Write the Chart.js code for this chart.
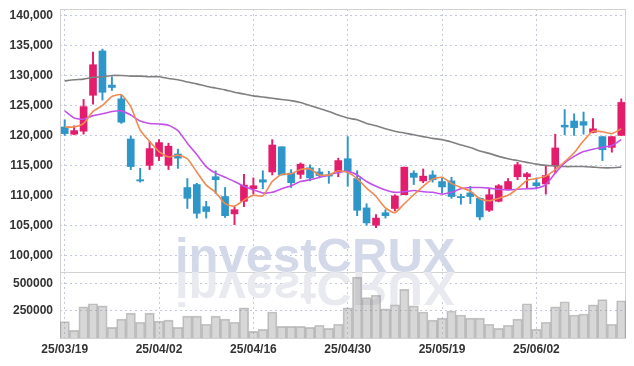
<!DOCTYPE html>
<html>
<head>
<meta charset="utf-8">
<script src="https://cdn.jsdelivr.net/npm/chart.js@4.4.1/dist/chart.umd.min.js"></script>
<style>
  html, body { margin: 0; padding: 0; background: #fff; }
  #wrap { position: relative; width: 634px; height: 366px; overflow: hidden; }
  #price { position: absolute; left: 0; top: 0; }
  #volume { position: absolute; left: 0; top: 262px; }
</style>
</head>
<body>
<div id="wrap">
  <canvas id="price" width="634" height="280"></canvas>
  <canvas id="volume" width="634" height="104"></canvas>
</div>
<script>
const dates = [
  "25/03/19","25/03/20","25/03/21","25/03/24","25/03/25","25/03/26","25/03/27","25/03/28","25/03/31","25/04/01",
  "25/04/02","25/04/03","25/04/04","25/04/07","25/04/08","25/04/09","25/04/10","25/04/11","25/04/14","25/04/15",
  "25/04/16","25/04/17","25/04/18","25/04/21","25/04/22","25/04/23","25/04/24","25/04/25","25/04/28","25/04/29",
  "25/04/30","25/05/02","25/05/07","25/05/08","25/05/09","25/05/12","25/05/13","25/05/14","25/05/15","25/05/16",
  "25/05/19","25/05/20","25/05/21","25/05/22","25/05/23","25/05/26","25/05/27","25/05/28","25/05/29","25/05/30",
  "25/06/02","25/06/04","25/06/05","25/06/09","25/06/10","25/06/11","25/06/12","25/06/13","25/06/16","25/06/17"
];

const open = [
  121400,120200,120700,126700,134100,128400,126100,119400,112600,115000,
  116500,115000,116900,111300,111800,108100,113100,109800,106900,109000,
  111100,112600,113900,118100,113700,113500,114600,113900,113400,113900,
  116100,112800,107900,105000,107100,107800,110100,113700,112400,113400,
  112300,112400,109800,110400,109500,107500,109000,111100,113100,113100,
  112100,111900,114900,121700,122400,122300,120500,119800,118000,120000
];
const high = [
  122600,121600,126000,133900,134400,129800,126700,119900,114500,119000,
  119300,118700,117700,112800,112000,109000,114100,111300,108100,113500,
  112900,114100,119300,118100,114300,115400,115100,114500,114000,116200,
  119800,114100,108600,106800,107600,110100,114700,114100,114400,114100,
  112900,113000,110200,111500,109600,111100,111800,112800,115500,113800,
  112900,115000,120200,124300,123600,123900,122800,119800,119800,126100
];
const low = [
  120000,120100,120200,125200,125900,127500,122000,114300,112200,114300,
  115800,114300,114500,107800,106200,106200,110300,106300,105100,108100,
  110200,111100,113400,113400,111300,112800,112400,112900,112000,113100,
  111500,106600,105000,104600,106200,107400,110100,111800,112100,112200,
  110400,109500,108500,108600,105900,107300,108900,110900,112600,111200,
  111100,110200,113700,120100,120000,120200,120400,115800,117200,120000
];
const close = [
  120300,120800,124800,131800,127200,128000,122200,114800,112400,117800,
  118800,118200,116200,109500,107000,107300,112600,106600,107600,111700,
  111600,112200,118400,113400,112100,115200,112900,113300,113200,115800,
  114000,107500,105400,106200,106600,109900,114700,113000,113200,112600,
  111400,109800,109600,109800,106400,110100,111600,112300,115100,113600,
  111600,113300,117900,121400,121300,121700,121100,117600,119800,125500
];

const ma5 = [
  121400,121400,122000,124000,125000,126500,126800,124800,120900,119000,
  117300,116400,116700,116100,113900,111700,110500,108600,108200,109200,
  110000,109900,112300,113500,113600,114300,114400,113400,113400,114100,
  113800,112800,111200,109800,107900,107100,108600,110100,111500,112700,
  113000,112000,111300,110700,109400,109100,109500,110000,111100,112500,
  112800,113200,114300,115600,117100,119100,120700,120600,120300,121100
];
const ma10 = [
  124100,122900,122700,123300,123600,124000,124100,123400,122400,122000,
  121900,121700,120800,118700,116800,114800,113700,113000,112300,111500,
  110900,110400,110500,111100,111600,112300,112600,113000,113400,113800,
  114000,113400,112300,111500,110900,110500,110600,110800,110600,110500,
  110200,110500,111100,111300,111300,111200,111000,110900,111000,111100,
  111200,111800,113700,115400,116500,117300,117700,118000,118300,119300
];
const maLong = [
  129100,129300,129400,129700,129800,130000,130000,129900,129900,129800,
  129800,129500,129300,128900,128600,128200,127900,127600,127200,126900,
  126600,126400,126200,126000,125800,125500,125000,124500,124000,123400,
  122900,122600,122000,121600,121100,120700,120400,120100,119800,119500,
  119300,118900,118400,118000,117400,117000,116500,116100,115800,115500,
  115200,115000,114900,114800,114800,114800,114700,114600,114600,114700
];

const volume = [
  152000,70000,288000,317000,298000,99000,175000,231000,146000,231000,
  156000,165000,99000,203000,203000,127000,203000,175000,146000,279000,
  61000,80000,241000,108000,108000,108000,99000,118000,89000,127000,
  279000,564000,374000,396000,269000,307000,450000,298000,241000,165000,
  184000,250000,213000,184000,184000,127000,89000,118000,175000,317000,
  80000,146000,288000,336000,213000,222000,307000,355000,127000,345000
];

const priceTicks = [100000,105000,110000,115000,120000,125000,130000,135000,140000];
const volumeTicks = [250000, 500000];

const UP = "#e31c6b";
const DOWN = "#2e96c8";
const GRID = "rgba(190,195,215,0.9)";
const FRAME = "#d2d2d2";
const tickFont = { family: "'Liberation Sans', Arial, sans-serif", size: 12, weight: "bold" };
const candleColors = close.map((c, i) => (c >= open[i] ? UP : DOWN));

const frame = {
  id: "frame",
  beforeDatasetsDraw(chart) {
    const { ctx, chartArea: a } = chart;
    ctx.save();
    ctx.strokeStyle = FRAME;
    ctx.lineWidth = 1;
    ctx.strokeRect(Math.round(a.left) + 0.5, Math.round(a.top) + 0.5,
      Math.round(a.right - a.left) - 1, Math.round(a.bottom - a.top));
    ctx.restore();
  }
};

const watermark = {
  id: "watermark",
  beforeDatasetsDraw(chart, args, opts) {
    const ctx = chart.ctx;
    ctx.save();
    ctx.font = "bold 49px 'Liberation Sans', Arial, sans-serif";
    ctx.textBaseline = "alphabetic";
    ctx.fillStyle = opts.color;
    ctx.translate(175, opts.baseline);
    if (opts.mirror) ctx.scale(1, -1);
    ctx.fillText("investCRUX", 0, 0);
    ctx.restore();
  }
};

const xGrid = {
  offset: false,
  drawTicks: false,
  color: (ctx) => (ctx.index % 10 === 0 ? GRID : "transparent")
};

// fixed y-axis width; drop the label padding chart.js adds above/below the plot
const fitY = (s) => {
  s.width = 60;
  s.paddingTop = 0;
  s.paddingBottom = 0;
};

new Chart(document.getElementById("price"), {
  data: {
    labels: dates,
    datasets: [
      { type: "line", data: ma5, borderColor: "#f08a50", borderWidth: 1.6, pointRadius: 0, tension: 0.2, order: 0 },
      { type: "line", data: ma10, borderColor: "#c450ea", borderWidth: 1.6, pointRadius: 0, tension: 0.2, order: 0 },
      { type: "line", data: maLong, borderColor: "#808080", borderWidth: 1.6, pointRadius: 0, tension: 0.2, order: 0 },
      { type: "bar", data: open.map((o, i) => [o, close[i]]), backgroundColor: candleColors,
        barThickness: 7, minBarLength: 1, grouped: false, order: 1 },
      { type: "bar", data: low.map((l, i) => [l, high[i]]), backgroundColor: candleColors,
        barThickness: 1.3, grouped: false, order: 2 }
    ]
  },
  options: {
    responsive: false,
    animation: false,
    layout: { autoPadding: false, padding: { top: 9, right: 8, bottom: 8, left: 0 } },
    plugins: {
      legend: { display: false },
      tooltip: { enabled: false },
      watermark: { color: "#d3d9e8", baseline: 272, mirror: false }
    },
    scales: {
      x: {
        type: "category",
        offset: true,
        ticks: { display: false },
        grid: xGrid,
        border: { display: false, dash: [2, 3] },
        afterFit: (s) => { s.height = 0; }
      },
      y: {
        min: 97200,
        max: 141100,
        afterBuildTicks: (s) => { s.ticks = priceTicks.map(v => ({ value: v })); },
        afterFit: fitY,
        ticks: { font: tickFont, color: "#333", padding: 7, callback: (v) => v.toLocaleString("en-US") },
        grid: { color: GRID, drawTicks: false },
        border: { display: false, dash: [2, 3] }
      }
    }
  },
  plugins: [frame, watermark]
});

new Chart(document.getElementById("volume"), {
  type: "bar",
  data: {
    labels: dates,
    datasets: [{
      data: volume,
      backgroundColor: "rgba(150,150,150,0.38)",
      borderColor: "rgba(130,130,130,0.45)",
      borderWidth: 1,
      barPercentage: 1,
      categoryPercentage: 1
    }]
  },
  options: {
    responsive: false,
    animation: false,
    layout: { autoPadding: false, padding: { top: 10, right: 8, bottom: 0, left: 0 } },
    plugins: {
      legend: { display: false },
      tooltip: { enabled: false },
      watermark: { color: "#e9e9f0", baseline: 10, mirror: true }
    },
    scales: {
      x: {
        offset: true,
        ticks: {
          font: tickFont, color: "#333", padding: 4, maxRotation: 0, autoSkip: false,
          callback: (v, i) => (i % 10 === 0 ? dates[i] : "")
        },
        grid: xGrid,
        border: { display: false, dash: [2, 3] },
        afterFit: (s) => { s.height = 28; }
      },
      y: {
        min: 0,
        max: 611000,
        afterBuildTicks: (s) => { s.ticks = volumeTicks.map(v => ({ value: v })); },
        afterFit: fitY,
        ticks: { font: tickFont, color: "#333", padding: 7, callback: (v) => String(v) },
        grid: { color: GRID, drawTicks: false },
        border: { display: false, dash: [2, 3] }
      }
    }
  },
  plugins: [frame, watermark]
});
</script>
</body>
</html>
